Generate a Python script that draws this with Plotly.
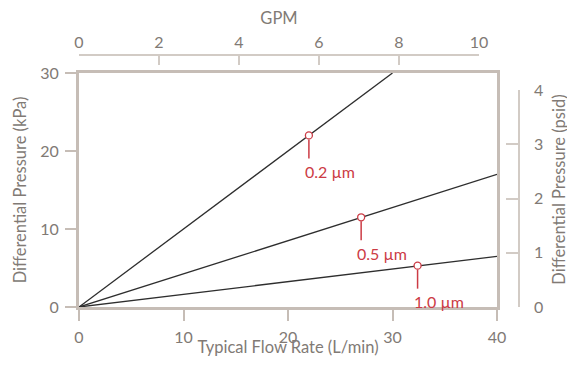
import plotly.graph_objects as go

# ---- data ----
flow_02 = [0, 30]
dp_02 = [0, 30]
flow_05 = [0, 40]
dp_05 = [0, 17]
flow_10 = [0, 40]
dp_10 = [0, 6.5]

labels = ["0.2 µm", "0.5 µm", "1.0 µm"]
mark_x = [22, 27, 32.4]
mark_y = [22, 11.5, 5.3]

gpm_ticks = [0, 2, 4, 6, 8, 10]
psid_ticks = [0, 1, 2, 3, 4]
lpm_ticks = [0, 10, 20, 30, 40]
kpa_ticks = [0, 10, 20, 30]

FRAME = "#c6bdb6"
THIN = "#d2cbc5"
TXT = "#817a75"
RED = "#cc3b45"
LINE = "#2e2e2e"
FONT = "Lato"
TICKF = dict(family=FONT, size=16, color=TXT)
TITLEF = dict(family=FONT, size=16.5, color=TXT)

fig = go.Figure()
for xs, ys in [(flow_02, dp_02), (flow_05, dp_05), (flow_10, dp_10)]:
    fig.add_trace(go.Scatter(x=xs, y=ys, mode="lines",
                             line=dict(color=LINE, width=1.3),
                             hoverinfo="skip", showlegend=False,
                             xaxis="x", yaxis="y"))

fig.add_trace(go.Scatter(x=mark_x, y=mark_y, mode="markers",
                         marker=dict(size=7, color="white",
                                     line=dict(color=RED, width=1.3)),
                         hoverinfo="skip", showlegend=False,
                         xaxis="x", yaxis="y"))

# dummy traces to realise the secondary axes
fig.add_trace(go.Scatter(x=[0], y=[0], mode="markers", marker=dict(opacity=0),
                         hoverinfo="skip", showlegend=False, xaxis="x2", yaxis="y"))
fig.add_trace(go.Scatter(x=[0], y=[0], mode="markers", marker=dict(opacity=0),
                         hoverinfo="skip", showlegend=False, xaxis="x", yaxis="y2"))

for lx, ly, lt in zip(mark_x, mark_y, labels):
    fig.add_shape(type="line", xref="x", yref="y", xsizemode="pixel",
                  ysizemode="pixel", xanchor=lx, yanchor=ly,
                  x0=0, x1=0, y0=-4, y1=-23,
                  line=dict(color=RED, width=1.5), layer="above")
    fig.add_annotation(x=lx, y=ly, xref="x", yref="y", text=lt,
                       showarrow=False, xanchor="left", yanchor="middle",
                       xshift=-6, yshift=-36,
                       font=dict(family=FONT, size=16, color=RED))

# right-hand axis title
fig.add_annotation(x=1.09, y=0.464, xref="paper", yref="paper",
                   text="Differential Pressure (psid)", textangle=-90,
                   showarrow=False, xanchor="center", yanchor="middle",
                   font=TITLEF)

common = dict(showgrid=False, zeroline=False, automargin=False)

fig.update_layout(
    width=567, height=349,
    margin=dict(l=71, r=56, t=47, b=50),
    paper_bgcolor="white", plot_bgcolor="rgba(0,0,0,0)",
    font=dict(family=FONT, size=15, color=TXT),
    xaxis=dict(domain=[0, 0.95], range=[0, 40], tickvals=lpm_ticks, **common,
               showline=True, linecolor=FRAME, linewidth=3, mirror=True,
               ticks="outside", ticklen=11, tickwidth=1.5, tickcolor=FRAME,
               tickfont=TICKF, ticklabelstandoff=3,
               title=dict(text="Typical Flow Rate (L/min)", standoff=5, font=TITLEF),
               anchor="y"),
    yaxis=dict(domain=[0, 0.9286], range=[0, 30], tickvals=kpa_ticks, **common,
               showline=True, linecolor=FRAME, linewidth=3, mirror=True,
               ticks="outside", ticklen=11, tickwidth=1.5, tickcolor=FRAME,
               tickfont=TICKF, ticklabelstandoff=3,
               title=dict(text="Differential Pressure (kPa)", standoff=10, font=TITLEF),
               anchor="x"),
    xaxis2=dict(domain=[0, 0.909], range=[0, 10], tickvals=gpm_ticks, **common,
                anchor="free", position=1, side="top",
                showline=True, linecolor=THIN, linewidth=1.5,
                ticks="inside", ticklen=9, tickwidth=1.5, tickcolor=THIN,
                tickfont=TICKF, ticklabelstandoff=0,
                title=dict(text="GPM", standoff=8, font=TITLEF)),
    yaxis2=dict(domain=[0, 0.8611], range=[0, 4], tickvals=psid_ticks, **common,
                anchor="free", position=1, side="right",
                showline=True, linecolor=THIN, linewidth=1.5,
                ticks="inside", ticklen=12, tickwidth=1.5, tickcolor=THIN,
                tickfont=TICKF, ticklabelstandoff=11),
)

fig.write_html("out.html")
